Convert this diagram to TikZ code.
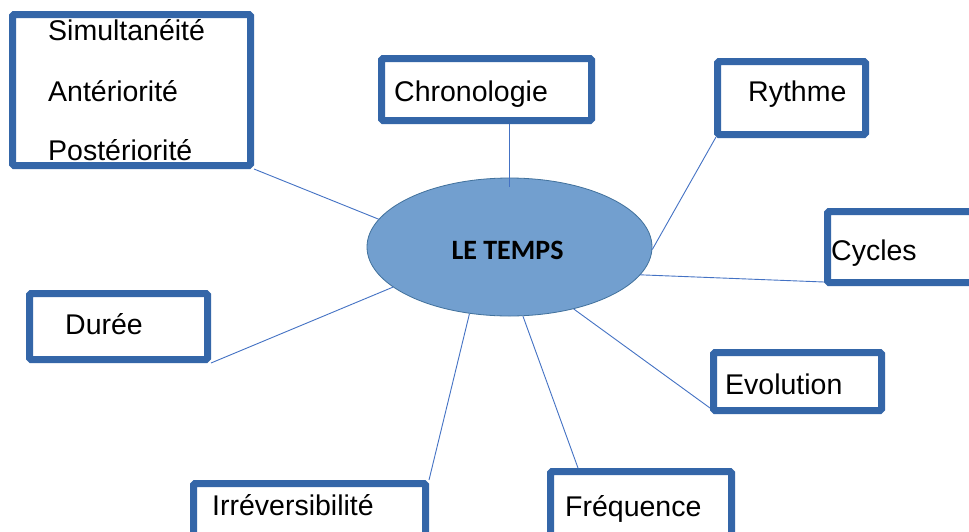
\documentclass[tikz,border=0pt]{standalone}
\usepackage{fontspec}
\setmainfont{Liberation Sans}
\newfontfamily\calib{Carlito}
\usetikzlibrary{shapes.geometric,calc}
\definecolor{boxblue}{HTML}{3466A8}
\definecolor{ellfill}{HTML}{729FCF}
\definecolor{elldraw}{HTML}{41719C}
\definecolor{linkblue}{HTML}{4472C4}
\tikzset{
  box/.style={draw=boxblue,line width=7pt,rounded corners=1.5pt,fill=white,inner sep=0pt},
  lbl/.style={anchor=base west,inner sep=0pt,font=\fontsize{28.5}{34}\selectfont},
  link/.style={draw=linkblue,line width=0.9pt}
}
\begin{document}
\begin{tikzpicture}[x=1pt,y=-1pt]
\clip (0,0) rectangle (969,531);
\fill[white] (0,0) rectangle (969,531);
% boxes
\node[box,minimum width=238pt,minimum height=151pt] (b1) at (131.5,90) {};
\node[box,minimum width=210pt,minimum height=62pt] (chrono) at (486.5,89.5) {};
\node[box,minimum width=148pt,minimum height=73pt] (ryth) at (791.5,98) {};
\node[box,minimum width=169pt,minimum height=71pt] (cyc) at (912,247) {};
\node[box,minimum width=178pt,minimum height=66pt] (duree) at (118.5,326.5) {};
\node[box,minimum width=168pt,minimum height=58pt] (evol) at (797.5,381.5) {};
\node[box,minimum width=181pt,minimum height=77pt] (freq) at (641,510) {};
\node[box,minimum width=232pt,minimum height=74pt] (irr) at (309.5,520.5) {};
% ellipse
\node[ellipse,draw=elldraw,line width=0.8pt,fill=ellfill,minimum width=285pt,minimum height=138pt,inner sep=0pt] (ell) at (509.5,247) {};
% texts
\node[lbl] (t1) at (48,40) {Simultanéité};
\node[lbl] (t2) at (48,101) {Antériorité};
\node[lbl] (t3) at (48,160) {Postériorité};
\node[lbl] (tchrono) at (394,101) {Chronologie};
\node[lbl] (tryth) at (748,101) {Rythme};
\node[lbl] (tcyc) at (831,260) {Cycles};
\node[lbl] (tduree) at (65,334) {Durée};
\node[lbl] (tevol) at (725,394) {Evolution};
\node[lbl] (tfreq) at (565,516) {Fréquence};
\node[lbl] (tirr) at (212,515) {Irréversibilité};
\node[anchor=base,inner sep=0pt,font=\calib\bfseries\fontsize{28}{34}\selectfont] (tc) at (507.5,259) {LE TEMPS};
% connectors
\draw[link] (b1.south east) -- (ell.168);
\draw[link] (ell.north |- chrono.south) -- ($(ell.north)+(0,9)$);
\draw[link] ($(ryth.south west)+(2,-1)$) -- (ell.-1);
\draw[link] ($(cyc.south west)+(0,-4)$) -- (ell.-12.4);
\draw[link] (duree.south east) -- (ell.199);
\draw[link] ($(evol.south west)+(0,-6)$) -- (ell.-44.8);
\draw[link] ($(freq.north west)+(31,0)$) -- (ell.-79.7);
\draw[link] (irr.north east) -- (ell.-121.9);
\end{tikzpicture}
\end{document}
